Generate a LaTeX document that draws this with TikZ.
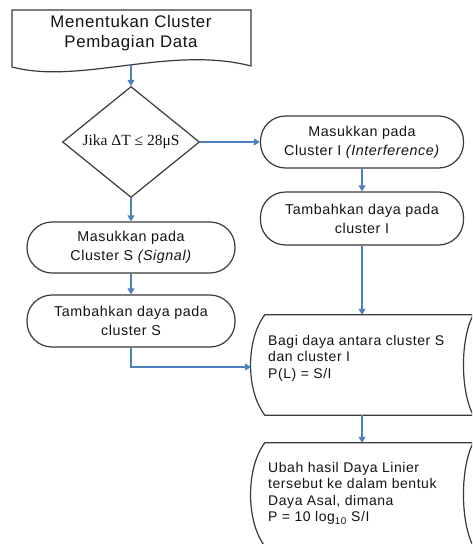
\documentclass[tikz,border=0pt]{standalone}
\usepackage{fontspec}
\setmainfont{Liberation Sans}[LetterSpace=4]
\newfontfamily\serifx{Liberation Serif}
\usetikzlibrary{shapes.geometric,arrows.meta,calc}
\definecolor{linec}{HTML}{3A3A3A}
\definecolor{arrc}{HTML}{4F81BD}
\definecolor{txt}{HTML}{141414}
\newcommand\sdshape[1]{%
  \draw[shp] (#1.north west) -- (#1.north east)
    .. controls ([shift={(-13pt,-25pt)}]#1.north east) and ([shift={(-13pt,25pt)}]#1.south east) .. (#1.south east)
    -- (#1.south west)
    .. controls ([shift={(-19pt,25pt)}]#1.south west) and ([shift={(-19pt,-25pt)}]#1.north west) .. (#1.north west) -- cycle;}
\begin{document}
\begin{tikzpicture}[x=1pt,y=-1pt,
  shp/.style={draw=linec,line width=1.2pt},
  term/.style={shp,rectangle,rounded corners=25pt,minimum width=208pt,minimum height=52pt,
    align=center,text=txt,font=\fontsize{14.3}{19}\selectfont,inner sep=0pt},
  sdbox/.style={rectangle,inner sep=0pt,minimum width=208pt},
  arr/.style={draw=arrc,line width=1.2pt,-{Triangle[width=7pt,length=6pt]}},
  lbl/.style={text=txt,align=left,inner sep=0pt,font=\fontsize{14}{16.5}\selectfont,anchor=north west}
]
\clip (0,0) rectangle (472,544);
\fill[white] (0,0) rectangle (472,544);

% document shape
\draw[shp] (12,10) -- (251,10) -- (251,66) .. controls (170,45) and (80,85) .. (12,67) -- cycle;
\node[text=txt,align=center,font=\fontsize{16.8}{20}\selectfont] (doc) at (131,33) {Menentukan Cluster\\Pembagian Data};
\coordinate (docb) at (131,65);

% decision
\node[shp,diamond,minimum width=137pt,minimum height=102pt,inner sep=0pt,text=txt,
  font=\serifx\fontsize{15.5}{17}\selectfont] (dia) at (131,142) {Jika ΔT ≤ 28μS};

% terminators
\node[term,minimum width=203pt] (rb1) at (362,142) {Masukkan pada\\Cluster I \textit{(Interference)}};
\node[term,minimum width=203pt,minimum height=53pt] (rb2) at (362,218.5) {Tambahkan daya pada\\cluster I};
\node[term,minimum height=51pt] (lb1) at (131,247.5) {Masukkan pada\\Cluster S \textit{(Signal)}};
\node[term] (lb2) at (131,321) {Tambahkan daya pada\\cluster S};

% stored data shapes
\node[sdbox,minimum height=100pt] (sd1) at (369,365) {};
\sdshape{sd1}
\node[lbl] (sd1t) at (268,335) {Bagi daya antara cluster S\\dan cluster I\\P(L) = S/I};
\coordinate (sd1w) at (251,367);

\node[sdbox,minimum height=103pt] (sd2) at (369,494.5) {};
\sdshape{sd2}
\node[lbl] (sd2t) at (268,462) {Ubah hasil Daya Linier\\tersebut ke dalam bentuk\\Daya Asal, dimana\\P = 10 log\textsubscript{10} S/I};

% connectors
\draw[arr] (docb) -- (dia.north);
\draw[arr] (dia.east) -- (rb1.west);
\draw[arr] (dia.south) -- (lb1.north);
\draw[arr] (rb1.south) -- (rb2.north);
\draw[arr] (lb1.south) -- (lb2.north);
\draw[arr] (rb2.south) -- (rb2.south |- sd1.north);
\draw[arr] (lb2.south) |- (sd1w);
\draw[arr] (rb2.south |- sd1.south) -- (rb2.south |- sd2.north);
\end{tikzpicture}
\end{document}
